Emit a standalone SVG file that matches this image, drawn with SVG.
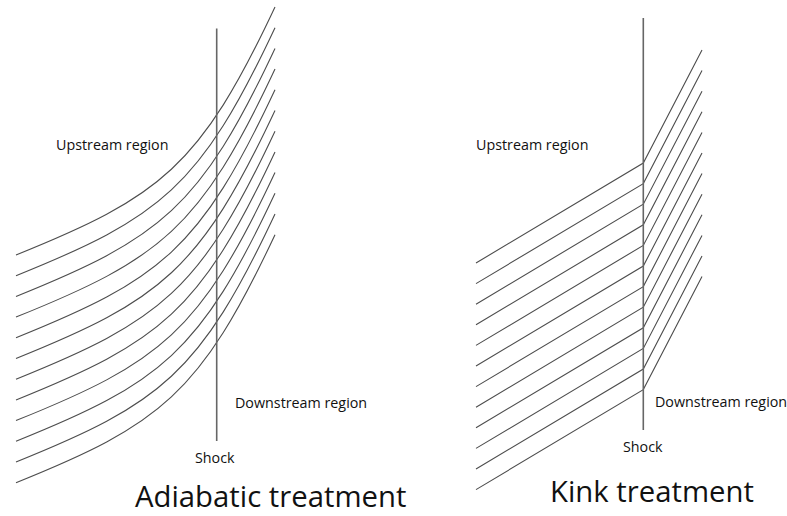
<svg xmlns="http://www.w3.org/2000/svg" width="787" height="516" viewBox="0 0 787 516">
  <style>
    .bg { fill: #ffffff; }
    .flow { fill: none; stroke: #4d4d4d; stroke-width: 1.1; }
    .shock { fill: none; stroke: #666666; stroke-width: 1.6; }
    .lbl { font-family: "Open Sans", "Noto Sans", "DejaVu Sans", sans-serif; font-size: 14.3px; font-weight: 500; fill: #111111; }
    .title { font-family: "Open Sans", "Noto Sans", "DejaVu Sans", sans-serif; font-size: 29.3px; fill: #111111; }
  </style>
  <rect class="bg" x="0" y="0" width="787" height="516"/>

  <g id="adiabatic">
    <g id="adiabatic-flow">
      <path class="flow" d="M16,255 C160,197 200,167 275,7"/>
      <path class="flow" d="M16,275.7 C160,217.7 200,187.7 275,27.7"/>
      <path class="flow" d="M16,296.4 C160,238.4 200,208.4 275,48.4"/>
      <path class="flow" d="M16,317.1 C160,259.1 200,229.1 275,69.1"/>
      <path class="flow" d="M16,337.8 C160,279.8 200,249.8 275,89.8"/>
      <path class="flow" d="M16,358.5 C160,300.5 200,270.5 275,110.5"/>
      <path class="flow" d="M16,379.2 C160,321.2 200,291.2 275,131.2"/>
      <path class="flow" d="M16,399.9 C160,341.9 200,311.9 275,151.9"/>
      <path class="flow" d="M16,420.6 C160,362.6 200,332.6 275,172.6"/>
      <path class="flow" d="M16,441.3 C160,383.3 200,353.3 275,193.3"/>
      <path class="flow" d="M16,462 C160,404 200,374 275,214"/>
      <path class="flow" d="M16,482.7 C160,424.7 200,394.7 275,234.7"/>
    </g>
    <line id="adiabatic-shock" class="shock" x1="216.7" y1="28.5" x2="216.7" y2="441"/>
    <text class="lbl" x="56" y="150">Upstream region</text>
    <text class="lbl" x="235" y="408">Downstream region</text>
    <text class="lbl" x="195" y="463">Shock</text>
    <text class="title" x="135" y="506.5">Adiabatic treatment</text>
  </g>

  <g id="kink">
    <g id="kink-flow">
      <polyline class="flow" points="476,263 643.3,163 702,50"/>
      <polyline class="flow" points="476,283.6 643.3,183.6 702,70.6"/>
      <polyline class="flow" points="476,304.2 643.3,204.2 702,91.2"/>
      <polyline class="flow" points="476,324.8 643.3,224.8 702,111.8"/>
      <polyline class="flow" points="476,345.4 643.3,245.4 702,132.4"/>
      <polyline class="flow" points="476,366 643.3,266 702,153"/>
      <polyline class="flow" points="476,386.6 643.3,286.6 702,173.6"/>
      <polyline class="flow" points="476,407.2 643.3,307.2 702,194.2"/>
      <polyline class="flow" points="476,427.8 643.3,327.8 702,214.8"/>
      <polyline class="flow" points="476,448.4 643.3,348.4 702,235.4"/>
      <polyline class="flow" points="476,469 643.3,369 702,256"/>
      <polyline class="flow" points="476,489.6 643.3,389.6 702,276.6"/>
    </g>
    <line id="kink-shock" class="shock" x1="643.3" y1="18" x2="643.3" y2="430"/>
    <text class="lbl" x="476" y="150">Upstream region</text>
    <text class="lbl" x="655" y="406.5">Downstream region</text>
    <text class="lbl" x="623" y="451.5">Shock</text>
    <text class="title" x="550" y="501.5">Kink treatment</text>
  </g>
</svg>
